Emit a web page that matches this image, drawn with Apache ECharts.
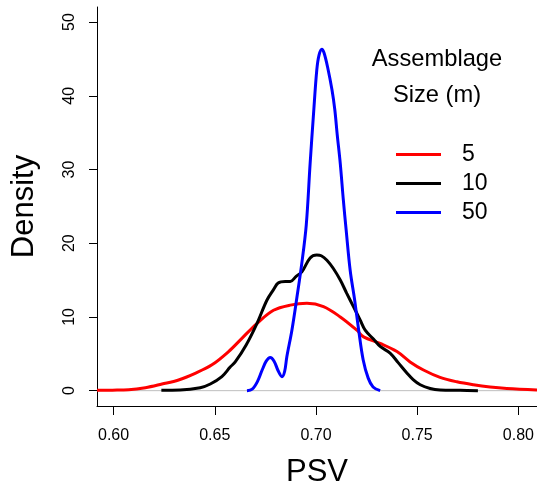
<!DOCTYPE html>
<html>
<head>
<meta charset="utf-8">
<script src="https://cdn.jsdelivr.net/npm/echarts@6/dist/echarts.min.js"></script>
<style>html,body{margin:0;padding:0;background:#fff;}#c{width:537px;height:485px;}</style>
</head>
<body>
<div id="c"></div>
<script>
const xTicks = [0.60, 0.65, 0.70, 0.75, 0.80];
const yTicks = [0, 10, 20, 30, 40, 50];

const redX = [0.5918, 0.5994, 0.6074, 0.6157, 0.6239, 0.6321, 0.6403, 0.6486, 0.6568, 0.6634, 0.6708, 0.6790, 0.6873, 0.6955, 0.7037, 0.7120, 0.7202, 0.7235, 0.7317, 0.7400, 0.7465, 0.7531, 0.7613, 0.7696, 0.7778, 0.7860, 0.7943, 0.8092];
const redY = [0.05, 0.07, 0.12, 0.4, 0.9, 1.45, 2.35, 3.5, 5.3, 7.1, 9.1, 10.9, 11.6, 11.85, 11.4, 10.0, 8.2, 7.3, 6.4, 5.3, 3.9, 2.8, 1.8, 1.2, 0.8, 0.5, 0.3, 0.1];

const blackX = [0.6236, 0.6329, 0.6428, 0.6478, 0.6535, 0.6576, 0.6601, 0.6655, 0.6708, 0.6758, 0.6790, 0.6813, 0.6848, 0.6873, 0.6902, 0.6930, 0.6971, 0.7004, 0.7026, 0.7054, 0.7085, 0.7120, 0.7152, 0.7185, 0.7218, 0.7243, 0.7284, 0.7317, 0.7366, 0.7406, 0.7449, 0.7480, 0.7515, 0.7564, 0.7613, 0.7712, 0.7800];
const blackY = [0.05, 0.08, 0.4, 0.9, 1.9, 3.2, 3.9, 6.2, 9.1, 12.3, 13.7, 14.6, 14.8, 14.8, 15.5, 16.1, 18.0, 18.4, 18.3, 17.7, 16.6, 15.0, 13.2, 11.4, 9.6, 8.2, 7.0, 6.0, 5.1, 3.8, 2.4, 1.5, 0.8, 0.3, 0.1, 0.05, 0.0];

const blueX = [0.6659, 0.6685, 0.6710, 0.6734, 0.6754, 0.6774, 0.6793, 0.6813, 0.6832, 0.6845, 0.6856, 0.6881, 0.6906, 0.6930, 0.6952, 0.6971, 0.6988, 0.7004, 0.7015, 0.7029, 0.7040, 0.7058, 0.7079, 0.7093, 0.7105, 0.7120, 0.7135, 0.7149, 0.7169, 0.7191, 0.7211, 0.7233, 0.7258, 0.7282, 0.7317];
const blueY = [0.0, 0.2, 1.2, 2.8, 4.0, 4.5, 4.0, 2.7, 1.9, 2.6, 4.6, 8.2, 12.7, 17.3, 22.5, 30.8, 37.6, 43.5, 45.5, 46.3, 45.8, 43.8, 40.8, 38.1, 34.7, 30.8, 25.9, 21.8, 16.3, 12.3, 8.2, 4.2, 1.7, 0.5, 0.0];

const seriesNames = ['5', '10', '50'];
const seriesColors = ['#ff0000', '#000000', '#0000ff'];

const xMin = 0.5918, xMax = 0.8092;
const yMin = -2.08, yMax = 52.04;

function pairs(xs, ys) { return xs.map((x, i) => [x, ys[i]]); }

const FONT = 'Liberation Sans, Arial, Helvetica, sans-serif';
const chart = echarts.init(document.getElementById('c'), null, {renderer: 'canvas'});

const curves = [pairs(redX, redY), pairs(blackX, blackY), pairs(blueX, blueY)];

chart.setOption({
  animation: false,
  backgroundColor: '#ffffff',
  textStyle: {fontFamily: FONT},
  grid: {left: 97, right: 0, top: 7, bottom: 79, containLabel: false, outerBoundsMode: 'none'},
  title: [
    {text: 'Assemblage', left: 437, top: 47.5, textAlign: 'center', padding: 0,
     textStyle: {fontFamily: FONT, fontWeight: 'normal', fontSize: 23.7, color: '#000'}},
    {text: 'Size (m)', left: 437, top: 83.5, textAlign: 'center', padding: 0,
     textStyle: {fontFamily: FONT, fontWeight: 'normal', fontSize: 23.7, color: '#000'}}
  ],
  legend: {
    data: seriesNames.map(n => ({name: n, icon: 'rect'})),
    orient: 'vertical',
    left: 396,
    top: 143,
    itemWidth: 45,
    itemHeight: 3,
    itemGap: 6,
    padding: 0,
    textStyle: {fontFamily: FONT, fontSize: 23, color: '#000', lineHeight: 20, padding: [0, 0, 0, 16]}
  },
  xAxis: {
    type: 'value', min: xMin, max: xMax,
    name: 'PSV', nameLocation: 'middle', nameGap: 51,
    nameTextStyle: {fontFamily: FONT, fontSize: 31, color: '#000'},
    axisLine: {show: true, onZero: false, lineStyle: {color: '#000', width: 1}},
    axisTick: {show: true, customValues: xTicks, length: 9, lineStyle: {color: '#000'}},
    axisLabel: {show: true, customValues: xTicks, margin: 22, fontSize: 16, color: '#000', fontFamily: FONT,
                formatter: v => v.toFixed(2)},
    splitLine: {show: false}
  },
  yAxis: {
    type: 'value', min: yMin, max: yMax,
    name: 'Density', nameLocation: 'middle', nameGap: 57, nameRotate: 90,
    nameTextStyle: {fontFamily: FONT, fontSize: 31, color: '#000'},
    axisLine: {show: true, onZero: false, lineStyle: {color: '#000', width: 1}},
    axisTick: {show: true, customValues: yTicks, length: 8, lineStyle: {color: '#000'}},
    axisLabel: {show: true, customValues: yTicks, rotate: 90, margin: 19, fontSize: 16, color: '#000', fontFamily: FONT,
                formatter: v => String(v)},
    splitLine: {show: false}
  },
  series: [
    {name: 'zero', type: 'line', data: [[xMin, 0], [xMax, 0]], symbol: 'none', silent: true, z: 1,
     lineStyle: {color: '#bebebe', width: 1}},
  ].concat(seriesNames.map((n, i) => ({
    name: n, type: 'line', data: curves[i], symbol: 'none', smooth: 0.35, z: 2 + i,
    lineStyle: {color: seriesColors[i], width: 3}, itemStyle: {color: seriesColors[i]}
  })))
});
</script>
</body>
</html>
